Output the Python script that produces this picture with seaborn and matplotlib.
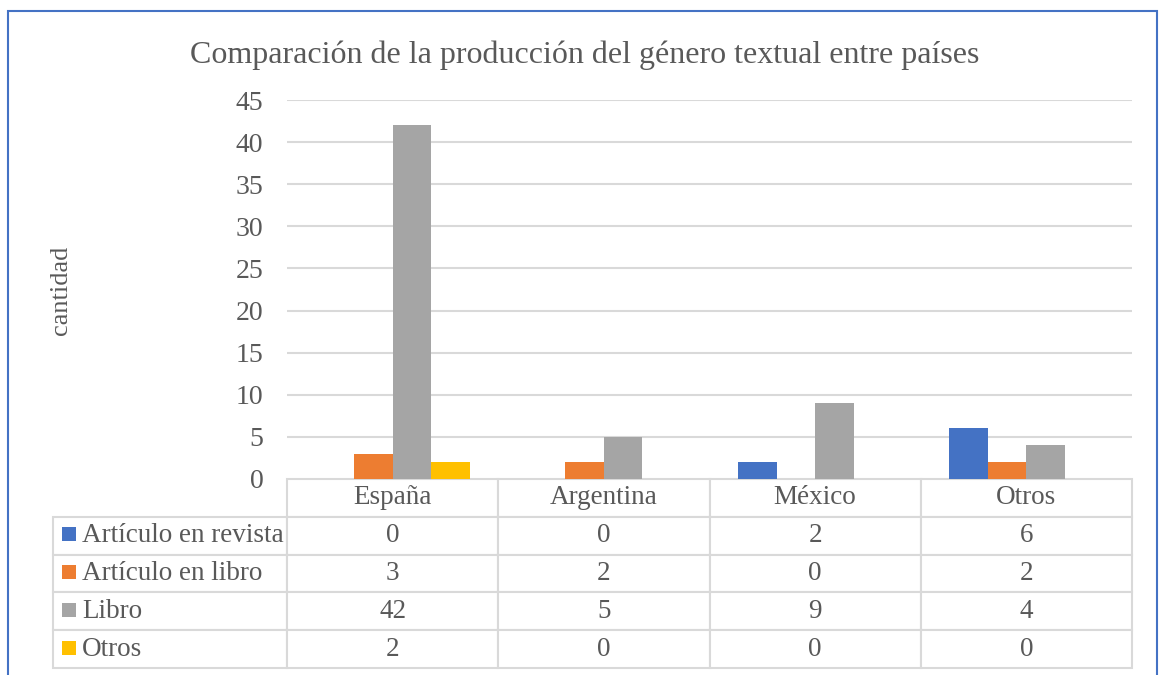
import numpy as np
import pandas as pd
import matplotlib
matplotlib.use("Agg")
import matplotlib.pyplot as plt
import seaborn as sns
from matplotlib.patches import Rectangle

# Datos
paises = ["España", "Argentina", "México", "Otros"]
generos = ["Artículo en revista", "Artículo en libro", "Libro", "Otros"]
art_revista = [0, 0, 2, 6]
art_libro = [3, 2, 0, 2]
libro = [42, 5, 9, 4]
otros = [2, 0, 0, 0]
colores = ["#4472C4", "#ED7D31", "#A5A5A5", "#FFC000"]
yticks = [0, 5, 10, 15, 20, 25, 30, 35, 40, 45]

series = [art_revista, art_libro, libro, otros]
df = pd.DataFrame({
    "pais": np.tile(paises, len(generos)),
    "genero": np.repeat(generos, len(paises)),
    "cantidad": np.concatenate(series),
})

sns.set_style("white")
plt.rcParams["font.family"] = ["Liberation Serif", "DejaVu Serif"]
gris = "#595959"
linea = "#D9D9D9"

W, H = 1165, 675
fig = plt.figure(figsize=(W / 100, H / 100), dpi=100)
x0, x1, ytop, ybot = 287, 1132, 100, 479
ax = fig.add_axes([x0 / W, 1 - ybot / H, (x1 - x0) / W, (ybot - ytop) / H])

sns.barplot(data=df, x="pais", y="cantidad", hue="genero", hue_order=generos,
            palette=colores, saturation=1, width=0.73, linewidth=0,
            legend=False, ax=ax, zorder=3)

ax.set_xlim(-0.5, len(paises) - 0.5)
ax.set_ylim(0, 45)
ax.set_yticks(yticks)
ax.set_yticklabels([str(t) for t in yticks], fontsize=20, color=gris)
ax.tick_params(axis="y", length=0, pad=17)
ax.set_xticks([])
ax.set_xlabel("")
ax.set_ylabel("")
for t in yticks[1:]:
    ax.axhline(t, color=linea, lw=1.5, zorder=1)
for s in ax.spines.values():
    s.set_visible(False)

# Tabla de datos (primera columna = etiquetas de serie)
row_w = 234 / (x1 - x0)
tot_h = (668 - ybot) / (ybot - ytop)
celdas = [[g] + [str(v) for v in s] for g, s in zip(generos, series)]
tabla = ax.table(cellText=celdas, colLabels=[""] + paises,
                 colWidths=[row_w] + [0.25] * len(paises),
                 cellLoc="center", bbox=[-row_w, -tot_h, 1 + row_w, tot_h])
tabla.auto_set_font_size(False)
for (r, c), cell in tabla.get_celld().items():
    cell.set_edgecolor(linea)
    cell.set_linewidth(1.5)
    cell.get_text().set_fontsize(19.5)
    cell.get_text().set_color(gris)
    if c == 0:
        cell._loc = "left"
        cell.PAD = 29 / 234
        cell.get_text().set_horizontalalignment("left")
        if r == 0:
            cell.set_visible(False)

# Marcadores de color en la tabla
alto = 1 / (ybot - ytop)
for i, col in enumerate(colores):
    yc = ybot + 38 * (i + 1) + 17
    ax.add_patch(Rectangle(((62 - x0) / (x1 - x0), 1 - (yc + 7 - ytop) * alto),
                           14 / (x1 - x0), 14 * alto, transform=ax.transAxes,
                           facecolor=col, edgecolor="none", clip_on=False, zorder=5))

fig.text(585 / W, 1 - 55 / H, "Comparación de la producción del género textual entre países",
         ha="center", va="center", fontsize=23, color=gris)
fig.text(61 / W, 1 - 290 / H, "cantidad", rotation=90, ha="center", va="center",
         fontsize=19, color=gris)

# Marco del gráfico
fig.patches.append(Rectangle((8 / W, -0.05), 1149 / W, 1 - 11 / H + 0.05,
                             transform=fig.transFigure, fill=False,
                             edgecolor="#4472C4", lw=1.5))

fig.savefig("out.png", dpi=100)
